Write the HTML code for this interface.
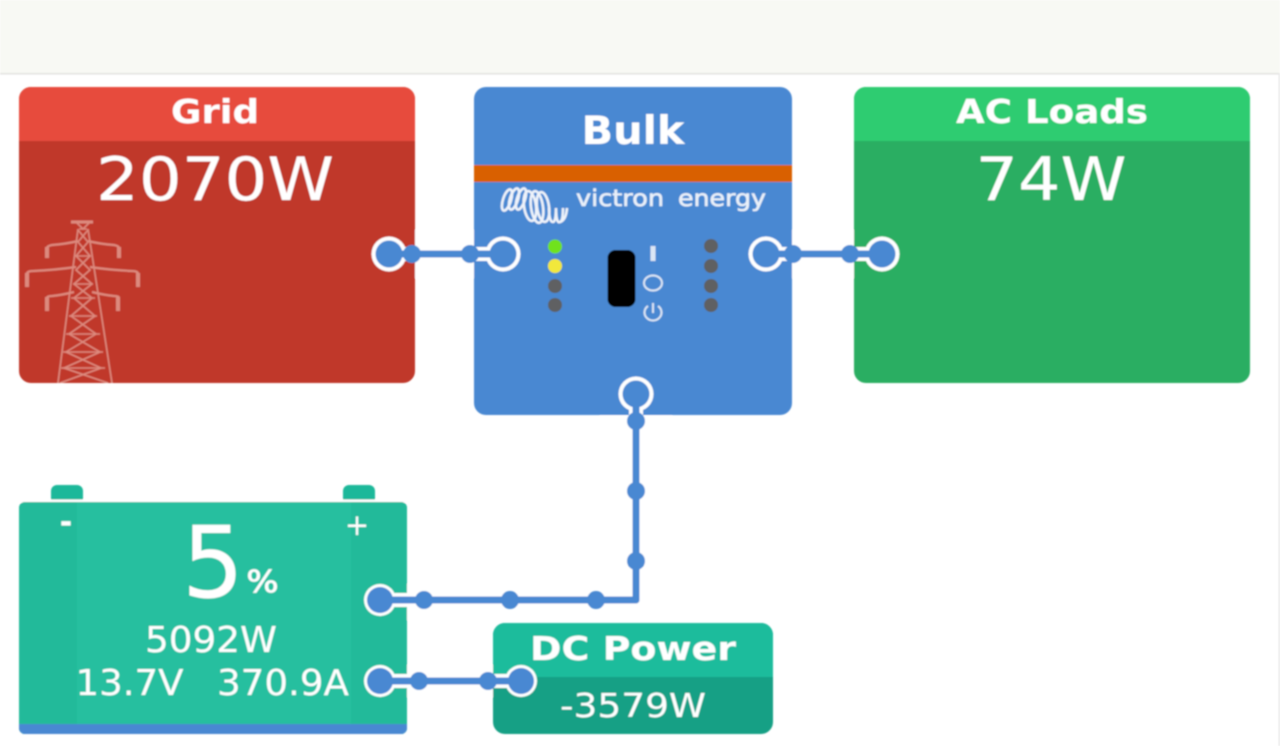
<!DOCTYPE html>
<html>
<head>
<meta charset="utf-8">
<style>
html,body{margin:0;padding:0;background:#fff;width:1280px;height:746px;overflow:hidden}
svg{display:block;position:absolute;left:0;top:0}
text{font-family:"DejaVu Sans","Liberation Sans",sans-serif;fill:#fff;text-anchor:middle}
.b{font-weight:700}
</style>
</head>
<body>
<svg width="1280" height="746" viewBox="0 0 1280 746" xmlns="http://www.w3.org/2000/svg">
<defs>
<filter id="s" x="-5%" y="-5%" width="110%" height="110%"><feGaussianBlur stdDeviation="0.8"/></filter>
<clipPath id="gc"><rect x="19" y="87" width="396" height="296" rx="12"/></clipPath>
<clipPath id="ac"><rect x="854" y="87" width="396" height="296" rx="12"/></clipPath>
<clipPath id="bc"><rect x="19" y="502" width="388" height="232" rx="6"/></clipPath>
<clipPath id="dc"><rect x="493" y="623" width="280" height="111" rx="12"/></clipPath>
</defs>
<rect width="1280" height="746" fill="#fff"/>
<g filter="url(#s)">
<rect x="0" y="0" width="1280" height="73" fill="#f8f9f4"/>
<rect x="0" y="73" width="1280" height="1.5" fill="#e2e2e0"/>
<rect x="1278.5" y="73" width="1.5" height="673" fill="#e8e8e8"/>

<!-- Grid -->
<g clip-path="url(#gc)">
<rect x="19" y="87" width="396" height="296" fill="#c0392b"/>
<rect x="19" y="87" width="396" height="54" fill="#e74c3c"/>
</g>
<text class="b" x="215" y="123" font-size="33" textLength="88" lengthAdjust="spacingAndGlyphs">Grid</text>
<text x="215" y="200" font-size="60" textLength="238" lengthAdjust="spacingAndGlyphs">2070W</text>
<g fill="none" stroke="#dd8a7e" stroke-width="1.6" clip-path="url(#gc)">
<path d="M71 222H93" stroke-width="3"/>
<path d="M77 223L83 229L89 223M79 229H87"/>
<path d="M78 229L58 383M88 229L112 383"/>
<path d="M78 230L88 242L76 256L90 270L74 284L92 298L71 316L96 334L66 352L101 368L60 383"/>
<path d="M88 230L78 242L90 256L76 270L92 284L74 298L95 316L69 334L100 352L64 368L108 383"/>
<path d="M75 256H91M73 284H93M71 298H95M69 316H97M66 334H100M63 352H103M61 368H105"/>
<path d="M47 248Q47 246 52 245Q66 244 78 241M119 248Q119 246 114 245Q100 244 88 241" stroke-width="2.2"/>
<path d="M27 274Q27 271 33 271Q55 270 76 267M138 274Q138 271 132 271Q110 270 90 267" stroke-width="2.2"/>
<path d="M47 298Q47 296 52 296Q62 295 74 292M119 298Q119 296 114 296Q104 295 92 292" stroke-width="2.2"/>
<path d="M47 247V258M119 247V258M27 273V287M138 273V287M47 297V311M118 297V311" stroke-width="4"/>
</g>

<!-- AC Loads -->
<g clip-path="url(#ac)">
<rect x="854" y="87" width="396" height="296" fill="#2cae62"/>
<rect x="854" y="87" width="396" height="54" fill="#2ecc71"/>
</g>
<text class="b" x="1052" y="123" font-size="33" textLength="192" lengthAdjust="spacingAndGlyphs">AC Loads</text>
<text x="1051" y="200" font-size="60" textLength="151" lengthAdjust="spacingAndGlyphs">74W</text>

<!-- Bulk -->
<rect x="474" y="87" width="318" height="328" rx="12" fill="#4a88d2"/>
<rect x="474" y="165" width="318" height="17" fill="#d96006"/>
<text class="b" x="633" y="144" font-size="39" textLength="103" lengthAdjust="spacingAndGlyphs">Bulk</text>
<g fill="none" stroke="#eef3fa" stroke-width="2.6">
<ellipse cx="507" cy="200" rx="4" ry="11" transform="rotate(18 507 200)"/>
<ellipse cx="514" cy="199" rx="4" ry="11" transform="rotate(18 514 199)"/>
<ellipse cx="521" cy="199" rx="4" ry="11" transform="rotate(18 521 199)"/>
<ellipse cx="530" cy="206" rx="6" ry="15" transform="rotate(-8 530 206)"/>
<ellipse cx="537" cy="207" rx="6" ry="16" transform="rotate(-8 537 207)"/>
<ellipse cx="543" cy="207" rx="6" ry="15" transform="rotate(-8 543 207)"/>
<path d="M549 208Q549 222 553 222Q556 222 556 208M556 208Q556 224 560 222Q563 221 563 208M560 222Q566 220 567 208"/>
</g>
<text x="620" y="206" font-size="23" textLength="88" lengthAdjust="spacingAndGlyphs" style="fill:#e9f0f9;stroke:#e9f0f9;stroke-width:.6">victron</text>
<text x="722" y="206" font-size="23" textLength="88" lengthAdjust="spacingAndGlyphs" style="fill:#e9f0f9;stroke:#e9f0f9;stroke-width:.6">energy</text>
<circle cx="555" cy="246.500" r="7" fill="#6fe21f"/>
<circle cx="555" cy="266" r="7" fill="#f2e83a"/>
<circle cx="555" cy="286" r="7" fill="#5f6062"/>
<circle cx="555" cy="305" r="7" fill="#5f6062"/>
<circle cx="711" cy="246" r="7" fill="#5f6062"/>
<circle cx="711" cy="266" r="7" fill="#5f6062"/>
<circle cx="711" cy="286" r="7" fill="#5f6062"/>
<circle cx="711" cy="305" r="7" fill="#5f6062"/>
<rect x="607.500" y="250" width="28" height="57" rx="8" fill="#000"/>
<rect x="650.500" y="246" width="5" height="15" fill="#dbe6f5"/>
<ellipse cx="653" cy="283" rx="9" ry="7.500" fill="none" stroke="#dbe6f5" stroke-width="2"/>
<path d="M648 306A8.500 8 0 1 0 658 306" fill="none" stroke="#dbe6f5" stroke-width="2"/>
<path d="M653 303V313" fill="none" stroke="#dbe6f5" stroke-width="2"/>

<!-- Battery -->
<rect x="51" y="485" width="32" height="20" rx="6" fill="#1fb89a"/>
<rect x="343" y="485" width="32" height="20" rx="6" fill="#1fb89a"/>
<rect x="19" y="499.500" width="388" height="3" fill="#fff"/>
<g clip-path="url(#bc)">
<rect x="19" y="502" width="388" height="232" fill="#27bf9f"/>
<rect x="19" y="502" width="58" height="232" fill="#20ba9a"/>
<rect x="351" y="502" width="56" height="232" fill="#20ba9a"/>
<rect x="19" y="724" width="388" height="10" fill="#4a88d2"/>
</g>
<text class="b" x="66" y="532" font-size="30">-</text>
<text x="357" y="535" font-size="29">+</text>
<text x="213" y="597" font-size="99" textLength="62" lengthAdjust="spacingAndGlyphs">5</text>
<text x="262.500" y="592" font-size="30" textLength="32" lengthAdjust="spacingAndGlyphs" style="stroke:#fff;stroke-width:.7">%</text>
<text x="211" y="652" font-size="36" textLength="132" lengthAdjust="spacingAndGlyphs">5092W</text>
<text x="129.500" y="695" font-size="36" textLength="108" lengthAdjust="spacingAndGlyphs">13.7V</text>
<text x="283" y="695" font-size="36" textLength="132" lengthAdjust="spacingAndGlyphs">370.9A</text>

<!-- DC Power -->
<g clip-path="url(#dc)">
<rect x="493" y="623" width="280" height="111" fill="#16a085"/>
<rect x="493" y="623" width="280" height="54" fill="#1abc9c"/>
</g>
<text class="b" x="633" y="660" font-size="33" textLength="206" lengthAdjust="spacingAndGlyphs">DC Power</text>
<text x="633" y="717" font-size="33" textLength="146" lengthAdjust="spacingAndGlyphs">-3579W</text>

<!-- Connector halos -->
<g fill="none" stroke="#fff" stroke-width="14" stroke-linejoin="round">
<path d="M390 254H504M766 254H882M636 394V600H380M380 681H520"/>
</g>
<g fill="#fff">
<circle cx="389" cy="254" r="17.500"/><circle cx="503" cy="254" r="17.500"/>
<circle cx="766" cy="254" r="17.500"/><circle cx="882" cy="254" r="17.500"/>
<circle cx="636" cy="394" r="17.500"/><circle cx="380" cy="600" r="16"/>
<circle cx="380" cy="681" r="16"/><circle cx="521" cy="681" r="16"/>
</g>
<rect x="415" y="230" width="59" height="48" fill="#fff"/>
<rect x="792" y="230" width="62" height="48" fill="#fff"/>
<rect x="600" y="415.500" width="72" height="150" fill="#fff"/>
<rect x="407" y="584" width="86" height="36" fill="#fff"/>
<rect x="407" y="665" width="86" height="32" fill="#fff"/>
<!-- Connectors -->
<g fill="none" stroke="#4a88d2" stroke-width="7" stroke-linejoin="round">
<path d="M390 254H504M766 254H882M636 394V600H380M380 681H520"/>
</g>
<g fill="#4a88d2">
<circle cx="389" cy="254" r="13.500"/><circle cx="503" cy="254" r="13.500"/>
<circle cx="766" cy="254" r="13.500"/><circle cx="882" cy="254" r="13.500"/>
<circle cx="636" cy="394" r="13.500"/><circle cx="380" cy="600" r="13"/>
<circle cx="380" cy="681" r="13"/><circle cx="521" cy="681" r="13"/>
<circle cx="412" cy="254" r="9"/><circle cx="470" cy="254" r="9"/>
<circle cx="793" cy="254" r="9"/><circle cx="850" cy="254" r="9"/>
<circle cx="636" cy="421" r="9"/><circle cx="636" cy="491" r="9"/><circle cx="636" cy="561" r="9"/>
<circle cx="596" cy="600" r="9"/><circle cx="510" cy="600" r="9"/><circle cx="424" cy="600" r="9"/>
<circle cx="419" cy="681" r="9"/><circle cx="488" cy="681" r="9"/>
</g>
</g>
</svg>
</body>
</html>
